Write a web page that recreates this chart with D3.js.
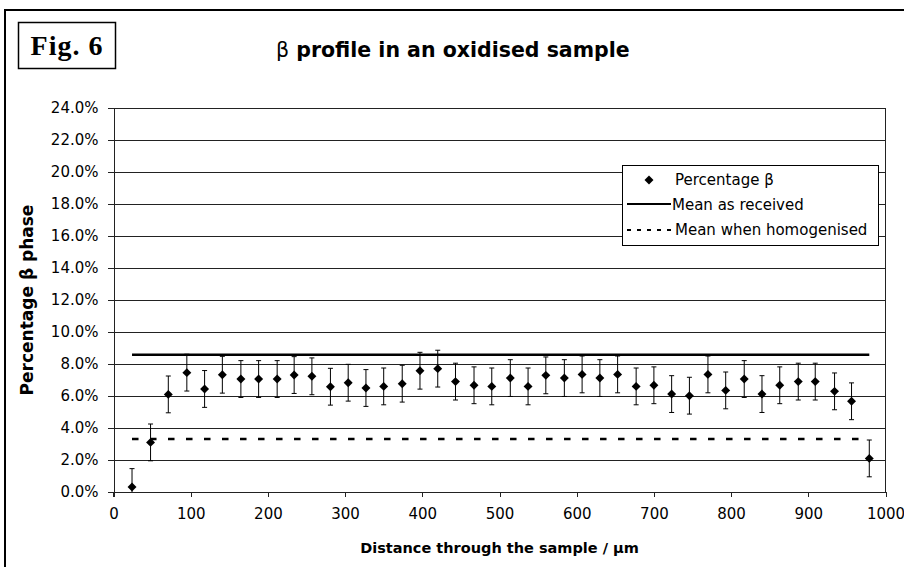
<html>
<head>
<meta charset="utf-8">
<script src="https://d3js.org/d3.v7.min.js"></script>
<style>
  body { margin: 0; background: white; }
  text { font-family: "DejaVu Sans", sans-serif; fill: black; }
</style>
</head>
<body>
<script>
  // distance through the sample (um)
  var distance = [24, 48, 71, 95, 118, 141, 165, 188, 212, 234, 257, 281, 304, 327,
                  350, 374, 397, 420, 443, 467, 490, 514, 537, 560, 584, 607, 630, 653,
                  677, 700, 723, 746, 770, 793, 817, 840, 863, 887, 909, 934, 956, 979];
  // percentage beta phase
  var percentBeta = [0.31, 3.10, 6.10, 7.46, 6.44, 7.33, 7.06, 7.06, 7.06, 7.31, 7.23, 6.58, 6.83, 6.50,
                     6.60, 6.77, 7.58, 7.71, 6.90, 6.67, 6.60, 7.12, 6.60, 7.29, 7.12, 7.35, 7.12, 7.35,
                     6.60, 6.67, 6.12, 6.02, 7.35, 6.35, 7.06, 6.12, 6.67, 6.90, 6.90, 6.29, 5.67, 2.10];
  var errorBeta = 1.15;
  var meanReceived = 8.58;
  var meanHomogenised = 3.31;
  var xTicks = [0, 100, 200, 300, 400, 500, 600, 700, 800, 900, 1000];
  var yTicks = [0, 2, 4, 6, 8, 10, 12, 14, 16, 18, 20, 22, 24];
  var legendLabels = ["Percentage \u03b2", "Mean as received", "Mean when homogenised"];

  var data = distance.map(function(d, i) { return { x: d, y: percentBeta[i] }; });

  var W = 904, H = 567;
  var plot = { left: 113.5, right: 885.5, top: 108, bottom: 492 };

  var svg = d3.select("body").append("svg")
      .attr("width", W)
      .attr("height", H);

  // outer frame
  svg.append("rect")
    .attr("x", 5).attr("y", 10)
    .attr("width", W + 10).attr("height", H + 10)
    .attr("fill", "white")
    .attr("stroke", "black")
    .attr("stroke-width", 2);

  // Fig. 6 box
  svg.append("rect")
    .attr("x", 18.5).attr("y", 22.5)
    .attr("width", 97).attr("height", 46)
    .attr("fill", "white")
    .attr("stroke", "black")
    .attr("stroke-width", 1.5);
  svg.append("text")
    .attr("x", 67).attr("y", 55)
    .attr("text-anchor", "middle")
    .style("font-family", "'Liberation Serif', serif")
    .style("font-weight", "bold")
    .style("font-size", "28px")
    .style("letter-spacing", "1px")
    .text("Fig. 6");

  // title
  var title = svg.append("text")
    .attr("x", 276).attr("y", 57)
    .style("font-size", "20.5px")
    .style("font-weight", "bold");
  title.append("tspan").style("font-weight", "normal").text("\u03b2");
  title.append("tspan").text(" profile in an oxidised sample");

  var x = d3.scaleLinear().domain([0, 1000]).range([plot.left, plot.right]);
  var y = d3.scaleLinear().domain([0, 24]).range([plot.bottom, plot.top]);

  // gridlines
  svg.append("g")
    .selectAll("line")
    .data(yTicks)
    .enter()
    .append("line")
      .attr("x1", plot.left).attr("x2", plot.right)
      .attr("y1", function(d) { return y(d); })
      .attr("y2", function(d) { return y(d); })
      .attr("stroke", "#222")
      .attr("stroke-width", 1)
      .attr("shape-rendering", "crispEdges");

  // right border of plot area
  svg.append("line")
    .attr("x1", plot.right).attr("x2", plot.right)
    .attr("y1", plot.top).attr("y2", plot.bottom)
    .attr("stroke", "#222")
    .attr("shape-rendering", "crispEdges");

  // axes
  var xAxis = svg.append("g")
    .attr("transform", "translate(0," + plot.bottom + ")")
    .call(d3.axisBottom(x).tickValues(xTicks).tickSizeOuter(0).tickSizeInner(5).tickPadding(11)
      .tickFormat(d3.format("d")));
  var yAxis = svg.append("g")
    .attr("transform", "translate(" + plot.left + ",0)")
    .call(d3.axisLeft(y).tickValues(yTicks).tickSizeOuter(0).tickSizeInner(6).tickPadding(9)
      .tickFormat(function(d) { return d.toFixed(1) + "%"; }));
  [xAxis, yAxis].forEach(function(a) {
    a.select(".domain").attr("stroke", "#222").attr("shape-rendering", "crispEdges");
    a.selectAll(".tick line").attr("stroke", "#222").attr("shape-rendering", "crispEdges");
    a.selectAll("text").style("font-family", "'DejaVu Sans', sans-serif").style("font-size", "15px").attr("fill", "black");
  });
  // y axis line extends below the x axis
  svg.append("line")
    .attr("x1", plot.left).attr("x2", plot.left)
    .attr("y1", plot.bottom).attr("y2", plot.bottom + 5)
    .attr("stroke", "#222")
    .attr("shape-rendering", "crispEdges");

  // axis titles
  svg.append("text")
    .attr("x", (plot.left + plot.right) / 2).attr("y", 553)
    .attr("text-anchor", "middle")
    .style("font-size", "14.5px")
    .style("font-weight", "bold")
    .text("Distance through the sample / \u03bcm");
  svg.append("text")
    .attr("transform", "translate(33," + ((plot.top + plot.bottom) / 2) + ") rotate(-90)")
    .attr("text-anchor", "middle")
    .style("font-size", "17px")
    .style("font-weight", "bold")
    .text("Percentage \u03b2 phase");

  // clip to the plot area
  svg.append("clipPath").attr("id", "plotclip")
    .append("rect")
      .attr("x", plot.left).attr("y", plot.top)
      .attr("width", plot.right - plot.left).attr("height", plot.bottom - plot.top);
  var marks = svg.append("g").attr("clip-path", "url(#plotclip)");

  var first = distance[0], last = distance[distance.length - 1];

  // mean lines
  marks.append("line")
    .attr("x1", x(first)).attr("x2", x(last))
    .attr("y1", y(meanReceived)).attr("y2", y(meanReceived))
    .attr("stroke", "black")
    .attr("stroke-width", 2.5);
  marks.append("line")
    .attr("x1", x(first)).attr("x2", x(last))
    .attr("y1", y(meanHomogenised)).attr("y2", y(meanHomogenised))
    .attr("stroke", "black")
    .attr("stroke-width", 2.5)
    .attr("stroke-dasharray", "6.5,11.5");

  // error bars
  var bars = marks.selectAll(".err")
    .data(data)
    .enter()
    .append("g")
      .attr("class", "err");
  bars.append("line")
    .attr("x1", function(d) { return x(d.x); })
    .attr("x2", function(d) { return x(d.x); })
    .attr("y1", function(d) { return y(d.y - errorBeta); })
    .attr("y2", function(d) { return y(d.y + errorBeta); })
    .attr("stroke", "black");
  [-1, 1].forEach(function(s) {
    bars.append("line")
      .attr("x1", function(d) { return x(d.x) - 2.5; })
      .attr("x2", function(d) { return x(d.x) + 2.5; })
      .attr("y1", function(d) { return y(d.y + s * errorBeta); })
      .attr("y2", function(d) { return y(d.y + s * errorBeta); })
      .attr("stroke", "black");
  });

  // diamonds
  var diamond = d3.symbol().type(d3.symbolSquare).size(40);
  svg.selectAll(".pt")
    .data(data)
    .enter()
    .append("path")
      .attr("class", "pt")
      .attr("d", diamond)
      .attr("transform", function(d) { return "translate(" + x(d.x) + "," + y(d.y) + ") rotate(45)"; })
      .attr("fill", "black");

  // legend
  var lg = svg.append("g").attr("transform", "translate(622,165)");
  lg.append("rect")
    .attr("x", 0.5).attr("y", 0.5)
    .attr("width", 256).attr("height", 80)
    .attr("fill", "white")
    .attr("stroke", "black");
  lg.append("path")
    .attr("d", diamond)
    .attr("transform", "translate(27,15) rotate(45)")
    .attr("fill", "black");
  lg.append("line")
    .attr("x1", 5).attr("x2", 49).attr("y1", 39).attr("y2", 39)
    .attr("stroke", "black").attr("stroke-width", 2);
  lg.append("line")
    .attr("x1", 5).attr("x2", 49).attr("y1", 65).attr("y2", 65)
    .attr("stroke", "black").attr("stroke-width", 2)
    .attr("stroke-dasharray", "4,6");
  lg.selectAll(".lgtext")
    .data(legendLabels)
    .enter()
    .append("text")
      .attr("class", "lgtext")
      .attr("x", function(d, i) { return i == 1 ? 50 : 53; })
      .attr("y", function(d, i) { return 20 + i * 25; })
      .style("font-size", "15px")
      .text(function(d) { return d; });
</script>
</body>
</html>
